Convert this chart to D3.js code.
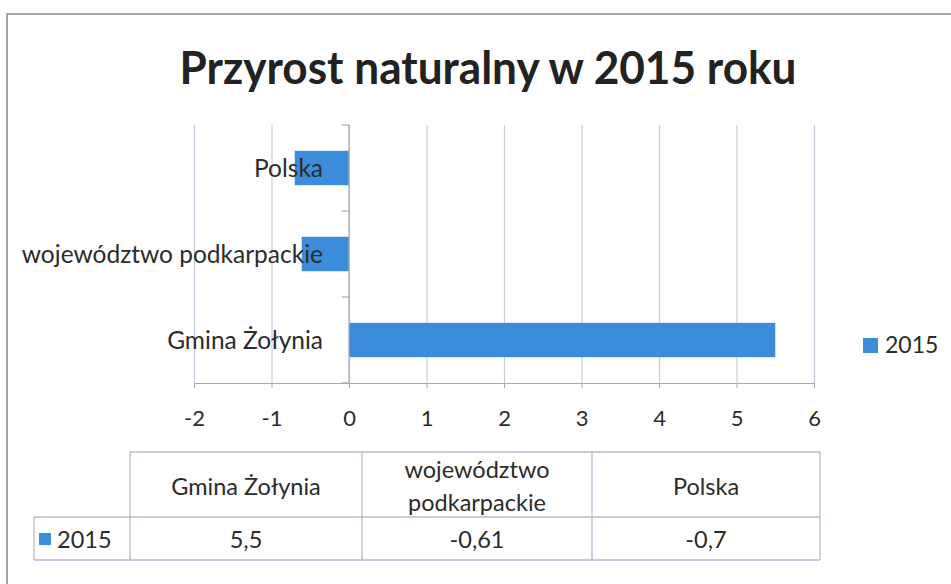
<!DOCTYPE html>
<html>
<head>
<meta charset="utf-8">
<script src="https://cdn.jsdelivr.net/npm/d3@7"></script>
<style>
  body { margin: 0; background: #fff; }
  text { font-family: Lato, "Open Sans", sans-serif; fill: #2b2b2b; }
</style>
</head>
<body>
<script>
var categories = ["Gmina Żołynia", "województwo podkarpackie", "Polska"];
var values = [5.5, -0.61, -0.7];
var seriesName = "2015";
var xTicks = [-2, -1, 0, 1, 2, 3, 4, 5, 6];
var tableHeaders = [["Gmina Żołynia"], ["województwo", "podkarpackie"], ["Polska"]];
var tableValues = ["5,5", "-0,61", "-0,7"];

var chartWidth = 951;
var chartHeight = 584;
var barColor = "#3b8ddb";
var gridColor = "#c9cbdc";

var svg = d3.select("body")
            .append("svg")
            .attr("width", chartWidth)
            .attr("height", chartHeight);

// chart frame (scan shows only top and left edges)
svg.append("path")
   .attr("d", "M7," + chartHeight + "V14H" + chartWidth)
   .attr("fill", "none")
   .attr("stroke", "#8a8a8a")
   .attr("stroke-width", 1.5);

svg.append("text")
   .attr("x", 488)
   .attr("y", 84)
   .attr("text-anchor", "middle")
   .attr("font-size", 46)
   .attr("font-weight", "bold")
   .attr("textLength", 617)
   .attr("lengthAdjust", "spacingAndGlyphs")
   .style("fill", "#222")
   .text("Przyrost naturalny w 2015 roku");

var plot = {left: 194, right: 814, top: 125, bottom: 383};

var xScale = d3.scaleLinear()
               .domain([-2, 6])
               .range([plot.left, plot.right]);

var yScale = d3.scaleBand()
               .domain(categories.slice().reverse())
               .range([plot.top, plot.bottom])
               .paddingInner(0.6)
               .paddingOuter(0.3);

// vertical gridlines
svg.append("g")
   .attr("transform", "translate(0," + plot.bottom + ")")
   .call(d3.axisBottom(xScale)
           .tickValues(xTicks)
           .tickSize(-(plot.bottom - plot.top))
           .tickFormat(""))
   .call(function(g) {
     g.select(".domain").remove();
     g.selectAll("line").attr("stroke", gridColor).attr("stroke-width", 1.2);
   });

// bottom axis
svg.append("g")
   .attr("transform", "translate(0," + plot.bottom + ")")
   .call(d3.axisBottom(xScale)
           .tickValues(xTicks)
           .tickSizeInner(5)
           .tickSizeOuter(0)
           .tickPadding(22)
           .tickFormat(function(d) { return String(d); }))
   .call(function(g) {
     g.select(".domain").attr("stroke", "#a9a9b5").attr("stroke-width", 1.2);
     g.selectAll("line").attr("stroke", "#a9a9b5");
     g.selectAll("text")
      .attr("font-size", 22)
      .style("font-family", "Lato, sans-serif")
      .style("fill", "#2b2b2b");
   });

// bars
svg.selectAll("rect.bar")
   .data(values)
   .enter()
   .append("rect")
   .attr("class", "bar")
   .attr("x", function(d) { return xScale(Math.min(0, d)); })
   .attr("y", function(d, i) { return yScale(categories[i]); })
   .attr("width", function(d) { return Math.abs(xScale(d) - xScale(0)); })
   .attr("height", yScale.bandwidth())
   .attr("fill", barColor);

// vertical axis at zero with ticks between categories
var x0 = xScale(0);
svg.append("line")
   .attr("x1", x0).attr("x2", x0)
   .attr("y1", plot.top).attr("y2", plot.bottom)
   .attr("stroke", "#a9a9b5")
   .attr("stroke-width", 1.2);

svg.selectAll("line.cattick")
   .data(d3.range(categories.length + 1))
   .enter()
   .append("line")
   .attr("class", "cattick")
   .attr("x1", x0 - 7).attr("x2", x0)
   .attr("y1", function(i) { return plot.top + i * yScale.step(); })
   .attr("y2", function(i) { return plot.top + i * yScale.step(); })
   .attr("stroke", "#a9a9b5")
   .attr("stroke-width", 1.2);

// category labels
svg.selectAll("text.cat")
   .data(categories)
   .enter()
   .append("text")
   .attr("class", "cat")
   .attr("x", x0 - 26)
   .attr("y", function(d) { return yScale(d) + yScale.bandwidth() / 2; })
   .attr("dy", "0.35em")
   .attr("text-anchor", "end")
   .attr("font-size", 24.5)
   .text(function(d) { return d; });

// legend
svg.append("rect")
   .attr("x", 863).attr("y", 338)
   .attr("width", 15).attr("height", 15)
   .attr("fill", barColor);
svg.append("text")
   .attr("x", 885).attr("y", 345)
   .attr("dy", "0.35em")
   .attr("font-size", 23)
   .text(seriesName);

// data table
var colX = [130, 362, 592, 820];
var tableTop = 452, rowMid = 517, tableBottom = 560, rowLeft = 34;
var table = svg.append("g")
               .attr("stroke", "#b9b9cf")
               .attr("stroke-width", 1.3);

table.append("path")
     .attr("fill", "none")
     .attr("d", "M" + colX[0] + "," + tableTop + "H" + colX[3] +
                "M" + rowLeft + "," + rowMid + "H" + colX[3] +
                "M" + rowLeft + "," + tableBottom + "H" + colX[3] +
                "M" + rowLeft + "," + rowMid + "V" + tableBottom);

table.selectAll("line")
     .data(colX)
     .enter()
     .append("line")
     .attr("x1", function(d) { return d; })
     .attr("x2", function(d) { return d; })
     .attr("y1", tableTop)
     .attr("y2", tableBottom);

tableHeaders.forEach(function(lines, i) {
  var cx = (colX[i] + colX[i + 1]) / 2;
  var cy = (tableTop + rowMid) / 2 + 2;
  var t = svg.append("text")
             .attr("x", cx)
             .attr("text-anchor", "middle")
             .attr("font-size", 23.5);
  lines.forEach(function(line, j) {
    t.append("tspan")
     .attr("x", cx)
     .attr("y", cy + (j - (lines.length - 1) / 2) * 33)
     .attr("dy", "0.35em")
     .text(line);
  });
});

tableValues.forEach(function(v, i) {
  svg.append("text")
     .attr("x", (colX[i] + colX[i + 1]) / 2)
     .attr("y", (rowMid + tableBottom) / 2 + 1)
     .attr("dy", "0.35em")
     .attr("text-anchor", "middle")
     .attr("font-size", 23.5)
     .text(v);
});

svg.append("rect")
   .attr("x", 39).attr("y", 533)
   .attr("width", 12).attr("height", 12)
   .attr("fill", barColor);
svg.append("text")
   .attr("x", 57)
   .attr("y", (rowMid + tableBottom) / 2 + 1)
   .attr("dy", "0.35em")
   .attr("font-size", 23.5)
   .text(seriesName);
</script>
</body>
</html>
